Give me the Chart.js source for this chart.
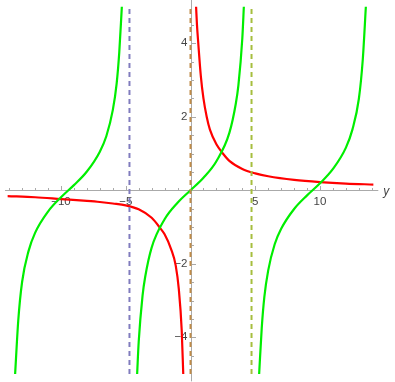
<!DOCTYPE html>
<html>
<head>
<meta charset="utf-8">
<script src="https://cdn.jsdelivr.net/npm/chart.js@4/dist/chart.umd.min.js"></script>
<style>
  html, body { margin: 0; padding: 0; background: #fff; }
  #wrap { width: 395px; height: 382px; }
</style>
</head>
<body>
<div id="wrap"><canvas id="plot"></canvas></div>
<script>
// Plot range
const xRange = [-14.137, 14.137];
const yRange = [-5, 5];

// Green curve, three branches
const greenLeftX = [-13.54, -13.3, -13, -12.5, -12, -11, -10, -9, -8, -7, -6.5, -6, -5.7, -5.5, -5.3];
const greenLeftY = [-5, -3.55, -2.49, -1.65, -1.16, -0.58, -0.19, 0.14, 0.51, 1.05, 1.47, 2.18, 2.91, 3.75, 5];
const greenMidX = [-4.12, -4, -3.7, -3.5, -3, -2, -1, 0, 1, 2, 3, 3.5, 3.7, 4, 4.12];
const greenMidY = [-5, -4.13, -2.86, -2.36, -1.56, -0.79, -0.34, 0, 0.34, 0.79, 1.56, 2.36, 2.86, 4.13, 5];
const greenRightX = [5.3, 5.5, 5.7, 6, 6.5, 7, 8, 9, 10, 11, 12, 12.5, 13, 13.3, 13.54];
const greenRightY = [-5, -3.75, -2.91, -2.18, -1.47, -1.05, -0.51, -0.14, 0.19, 0.58, 1.16, 1.65, 2.49, 3.55, 5];

// Red curve, two branches
const redLeftX = [-14.137, -12, -10, -8, -7, -6, -5, -4, -3, -2.34, -2, -1.5, -1.14, -0.9, -0.68, -0.56];
const redLeftY = [-0.16, -0.19, -0.24, -0.29, -0.32, -0.36, -0.41, -0.52, -0.75, -1.03, -1.2, -1.6, -2.05, -2.7, -3.8, -5];
const redRightX = [0.43, 0.5, 0.6, 0.8, 1, 1.25, 1.5, 2, 2.5, 3, 4, 5, 6, 8, 10, 12, 14.137];
const redRightY = [5, 4.5, 4, 3.1, 2.5, 2, 1.65, 1.25, 1, 0.8, 0.58, 0.46, 0.38, 0.28, 0.22, 0.18, 0.155];

// Vertical dashed lines
const asymptoteX = [-4.712, 0, 4.712];
const asymptoteColors = ['rgb(128,124,190)', 'rgb(192,140,72)', 'rgb(166,190,62)'];

// Axis ticks
const xTickLabels = [-10, -5, 5, 10];
const xMinorTicks = [-14, -13, -12, -11, -9, -8, -7, -6, -4, -3, -2, -1, 1, 2, 3, 4, 6, 7, 8, 9, 11, 12, 13, 14];
const yTickLabels = [-4, -2, 2, 4];
const yMinorTicks = [-4.5, -3.5, -3, -2.5, -1.5, -1, -0.5, 0.5, 1, 1.5, 2.5, 3, 3.5, 4.5];
const xAxisSpan = [-14.32, 14.5];
const yAxisSpan = [-5.2, 5.2];
const axisName = 'y';

const pts = (xs, ys) => xs.map((x, i) => ({ x: x, y: ys[i] }));

function curve(xs, ys, color) {
    return {
        data: pts(xs, ys),
        borderColor: color,
        borderWidth: 2.2,
        pointRadius: 0,
        cubicInterpolationMode: 'monotone',
        fill: false
    };
}

const datasets = [];
asymptoteX.forEach((ax, i) => {
    datasets.push({
        data: [{ x: ax, y: yRange[0] }, { x: ax, y: yRange[1] }],
        borderColor: asymptoteColors[i],
        borderWidth: 2,
        borderDash: [5, 4],
        pointRadius: 0,
        order: 0
    });
});
datasets.push(curve(greenLeftX, greenLeftY, '#00ee00'));
datasets.push(curve(greenMidX, greenMidY, '#00ee00'));
datasets.push(curve(greenRightX, greenRightY, '#00ee00'));
datasets.push(curve(redLeftX, redLeftY, '#ff0000'));
datasets.push(curve(redRightX, redRightY, '#ff0000'));
datasets.forEach(d => { if (d.order === undefined) d.order = 1; });

// Mathematica-like axes through the origin
const axesPlugin = {
    id: 'originAxes',
    beforeDatasetsDraw(chart) {
        const { ctx, scales: { x, y } } = chart;
        const x0 = Math.round(x.getPixelForValue(0)) + 0.5;
        const y0 = Math.round(y.getPixelForValue(0)) + 0.5;
        ctx.save();
        ctx.strokeStyle = '#aaaaaa';
        ctx.lineWidth = 1;

        ctx.beginPath();
        ctx.moveTo(x.getPixelForValue(xAxisSpan[0]), y0);
        ctx.lineTo(x.getPixelForValue(xAxisSpan[1]), y0);
        ctx.moveTo(x0, y.getPixelForValue(yAxisSpan[1]));
        ctx.lineTo(x0, y.getPixelForValue(yAxisSpan[0]));
        ctx.stroke();

        ctx.beginPath();
        xMinorTicks.forEach(v => {
            const px = Math.round(x.getPixelForValue(v)) + 0.5;
            ctx.moveTo(px, y0); ctx.lineTo(px, y0 - 2.5);
        });
        xTickLabels.forEach(v => {
            const px = Math.round(x.getPixelForValue(v)) + 0.5;
            ctx.moveTo(px, y0); ctx.lineTo(px, y0 - 4.5);
        });
        yMinorTicks.forEach(v => {
            const py = Math.round(y.getPixelForValue(v)) + 0.5;
            ctx.moveTo(x0, py); ctx.lineTo(x0 + 2.5, py);
        });
        yTickLabels.forEach(v => {
            const py = Math.round(y.getPixelForValue(v)) + 0.5;
            ctx.moveTo(x0, py); ctx.lineTo(x0 + 4.5, py);
        });
        ctx.stroke();

        ctx.fillStyle = '#444444';
        ctx.font = '11.5px "Liberation Sans", Arial, sans-serif';
        ctx.textAlign = 'center';
        ctx.textBaseline = 'middle';
        xTickLabels.forEach(v => {
            const txt = (v < 0 ? '\u2212' : '') + Math.abs(v);
            ctx.fillText(txt, x.getPixelForValue(v), y0 + 11);
        });
        ctx.textAlign = 'right';
        yTickLabels.forEach(v => {
            const txt = (v < 0 ? '\u2212' : '') + Math.abs(v);
            ctx.fillText(txt, x0 - 4, y.getPixelForValue(v));
        });

        ctx.font = 'italic 12px "Liberation Sans", Arial, sans-serif';
        ctx.textAlign = 'left';
        ctx.fillText(axisName, x.getPixelForValue(xAxisSpan[1]) + 5, y0 + 1);
        ctx.restore();
    }
};

new Chart(document.getElementById('plot'), {
    type: 'line',
    data: { datasets: datasets },
    options: {
        responsive: true,
        maintainAspectRatio: false,
        animation: false,
        parsing: true,
        layout: { padding: { left: 7.4, right: 21.4, top: 6.5, bottom: 8 } },
        scales: {
            x: { type: 'linear', min: xRange[0], max: xRange[1], display: false },
            y: { type: 'linear', min: yRange[0], max: yRange[1], display: false }
        },
        plugins: {
            legend: { display: false },
            tooltip: { enabled: false }
        }
    },
    plugins: [axesPlugin]
});
</script>
</body>
</html>
